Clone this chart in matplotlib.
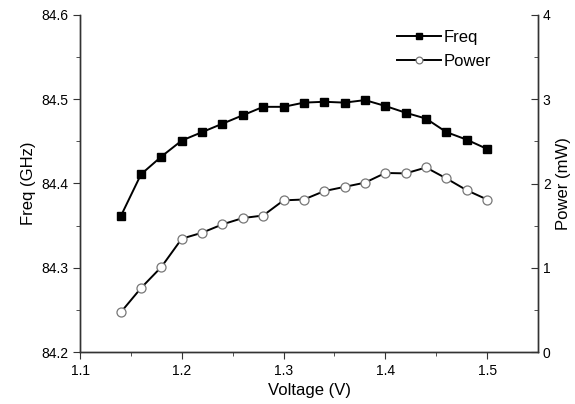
import numpy as np
import matplotlib.pyplot as plt

plt.rcParams['font.family'] = ['Liberation Sans', 'DejaVu Sans']

# Data
voltage = [1.14, 1.16, 1.18, 1.20, 1.22, 1.24, 1.26, 1.28, 1.30, 1.32,
           1.34, 1.36, 1.38, 1.40, 1.42, 1.44, 1.46, 1.48, 1.50]
freq = [84.361, 84.411, 84.432, 84.451, 84.461, 84.471, 84.481, 84.491, 84.491, 84.496,
        84.497, 84.496, 84.499, 84.492, 84.484, 84.477, 84.461, 84.452, 84.441]
power = [0.47, 0.76, 1.01, 1.345, 1.416, 1.515, 1.59, 1.62, 1.80, 1.81,
         1.91, 1.96, 2.01, 2.125, 2.12, 2.19, 2.06, 1.92, 1.81]

fig = plt.figure(figsize=(5.75, 4.04), dpi=100)
ax = fig.add_axes([80 / 575, 1 - 352 / 404, 458 / 575, 337 / 404])
ax2 = ax.twinx()

l1, = ax.plot(voltage, freq, '-s', color='black', lw=1.4, ms=5.5,
              mfc='black', mec='black', label='Freq')
l2, = ax2.plot(voltage, power, '-o', color='black', lw=1.4, ms=6.5,
               mfc='white', mec='#777777', mew=0.9, label='Power')

ax.set_xlim(1.1, 1.55)
ax.set_ylim(84.2, 84.6)
ax2.set_ylim(0, 4)

ax.set_xticks([1.1, 1.2, 1.3, 1.4, 1.5])
ax.set_xticks([1.15, 1.25, 1.35, 1.45], minor=True)
ax.set_yticks([84.2, 84.3, 84.4, 84.5, 84.6])
ax.set_yticks([84.25, 84.35, 84.45, 84.55], minor=True)
ax2.set_yticks([0, 1, 2, 3, 4])
ax2.set_yticks([0.5, 1.5, 2.5, 3.5], minor=True)

for a in (ax, ax2):
    a.spines['top'].set_visible(False)
    for s in a.spines.values():
        s.set_color('#333333')
        s.set_linewidth(1.0)

ax.tick_params(axis='both', which='major', direction='out', length=5,
               labelsize=10, color='#333333')
ax.tick_params(axis='both', which='minor', direction='out', length=3, color='#333333')
ax2.tick_params(axis='y', which='major', direction='in', length=5,
                labelsize=10, color='#333333')
ax2.tick_params(axis='y', which='minor', direction='in', length=3, color='#333333')

ax.set_xlabel('Voltage (V)', fontsize=12)
ax.set_ylabel('Freq (GHz)', fontsize=12)
ax2.set_ylabel('Power (mW)', fontsize=12)

ax.legend(handles=[l1, l2], loc='upper left', bbox_to_anchor=(0.66, 1.0),
          frameon=False, fontsize=12, handlelength=2.6, markerscale=0.75,
          labelspacing=0.55, handletextpad=0.2)

fig.savefig('out.png', dpi=100)
